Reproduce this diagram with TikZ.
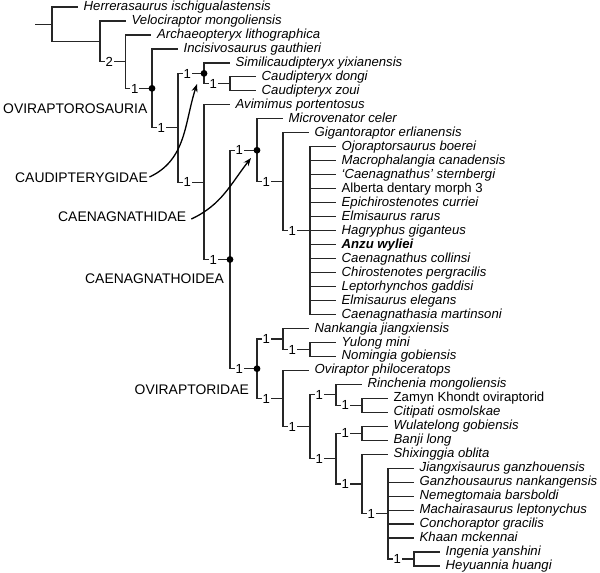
\documentclass[tikz,border=0pt]{standalone}
\usepackage{fontspec}
\setmainfont{Liberation Sans}
\usetikzlibrary{calc,arrows.meta}
\def\ytop{7}
\def\ystep{13.975}
\newcommand\ry[1]{\ytop+\ystep*(#1-1)}
\tikzset{
  br/.style={draw=black!85, line width=1.2pt},
  leaf/.style={font=\fontsize{13.15}{15}\selectfont\itshape, inner sep=0pt, anchor=west, text height=9.2pt, text depth=2pt},
  uprt/.style={font=\fontsize{13.15}{15}\selectfont\upshape},
  boldit/.style={font=\fontsize{13.15}{15}\selectfont\bfseries\itshape},
  sup/.style={font=\fontsize{13.15}{15}\selectfont, fill=white, inner xsep=0.8pt, inner ysep=0pt, anchor=west, text height=9.4pt, text depth=0pt},
  clade/.style={font=\fontsize{13.9}{16}\selectfont, inner sep=0pt, text height=10pt, text depth=0pt},
  arr/.style={draw=black, line width=1.3pt, -{Stealth[length=8pt,width=6pt]}},
  dot/.style={fill=black},
}
\newcommand\lf[4][]{%
  \coordinate (e#2) at ($(#3 |- 0,{\ry{#2}})+(25.5,0)$);
  \draw[br] (#3) |- (e#2);
  \node[leaf,#1] (t#2) at ($(e#2)+(6,0)$) {#4};
}
\newcommand\ed[3]{%
  \draw[br] (#1) |- (#2);
  \node[sup] (s#2) at ($(#1 |- #2)+(4.5,0)$) {#3};
}
\begin{document}
\begin{tikzpicture}[x=1pt,y=-1pt]
\useasboundingbox (0,0) rectangle (600,573);
% internal nodes
\coordinate (stub)  at (35,{\ry{2.22760009765625}});
\coordinate (root)  at (52,{\ry{2.22760009765625}});
\coordinate (Nvel)  at (100,{\ry{3.4552001953125}});
\coordinate (Narch) at (125.5,{\ry{4.910400390625}});
\coordinate (Novs)  at (152,{\ry{6.82080078125}});
\coordinate (NA)    at (178,{\ry{9.6416015625}});
\coordinate (Ncaud) at (204,{\ry{5.75}});
\coordinate (Ncdz)  at (230,{\ry{6.5}});
\coordinate (NB)    at (204,{\ry{13.533203125}});
\coordinate (Ncoid) at (230,{\ry{19.06640625}});
\coordinate (Ncid)  at (257,{\ry{11.25}});
\coordinate (Ngig)  at (283,{\ry{13.5}});
\coordinate (P1)    at (310,{\ry{17}});
\coordinate (Novd)  at (257,{\ry{26.8828125}});
\coordinate (Nnan)  at (283,{\ry{24.75}});
\coordinate (Nyul)  at (310,{\ry{25.5}});
\coordinate (Novr)  at (283,{\ry{29.015625}});
\coordinate (NX)    at (310,{\ry{31.03125}});
\coordinate (Nrin)  at (336,{\ry{28.75}});
\coordinate (Nzam)  at (362,{\ry{29.5}});
\coordinate (NY)    at (336,{\ry{33.3125}});
\coordinate (Nwul)  at (362,{\ry{31.5}});
\coordinate (Nshi)  at (362,{\ry{35.125}});
\coordinate (P2)    at (388,{\ry{37.25}});
\coordinate (Ning)  at (414,{\ry{40.5}});
% stem edges
\draw[br] (stub) -- (root);
\draw[br] (root) |- (Nvel);
\ed{Nvel}{Narch}{2}
\ed{Narch}{Novs}{1}
\ed{Novs}{NA}{1}
\ed{NA}{Ncaud}{1}
\ed{Ncaud}{Ncdz}{1}
\ed{NA}{NB}{1}
\ed{NB}{Ncoid}{1}
\ed{Ncoid}{Ncid}{1}
\ed{Ncid}{Ngig}{1}
\ed{Ngig}{P1}{1}
\ed{Ncoid}{Novd}{1}
\ed{Novd}{Nnan}{1}
\ed{Nnan}{Nyul}{1}
\ed{Novd}{Novr}{1}
\ed{Novr}{NX}{1}
\ed{NX}{Nrin}{1}
\ed{Nrin}{Nzam}{1}
\ed{NX}{NY}{1}
\ed{NY}{Nwul}{1}
\ed{NY}{Nshi}{1}
\ed{Nshi}{P2}{1}
\ed{P2}{Ning}{1}
% leaves
\lf{1}{root}{Herrerasaurus ischigualastensis}
\lf{2}{Nvel}{Velociraptor mongoliensis}
\lf{3}{Narch}{Archaeopteryx lithographica}
\lf{4}{Novs}{Incisivosaurus gauthieri}
\lf{5}{Ncaud}{Similicaudipteryx yixianensis}
\lf{6}{Ncdz}{Caudipteryx dongi}
\lf{7}{Ncdz}{Caudipteryx zoui}
\lf{8}{NB}{Avimimus portentosus}
\lf{9}{Ncid}{Microvenator celer}
\lf{10}{Ngig}{Gigantoraptor erlianensis}
\lf{11}{P1}{Ojoraptorsaurus boerei}
\lf{12}{P1}{Macrophalangia canadensis}
\lf{13}{P1}{‘Caenagnathus’ sternbergi}
\lf[uprt]{14}{P1}{Alberta dentary morph 3}
\lf{15}{P1}{Epichirostenotes curriei}
\lf{16}{P1}{Elmisaurus rarus}
\lf{17}{P1}{Hagryphus giganteus}
\lf[boldit]{18}{P1}{Anzu wyliei}
\lf{19}{P1}{Caenagnathus collinsi}
\lf{20}{P1}{Chirostenotes pergracilis}
\lf{21}{P1}{Leptorhynchos gaddisi}
\lf{22}{P1}{Elmisaurus elegans}
\lf{23}{P1}{Caenagnathasia martinsoni}
\lf{24}{Nnan}{Nankangia jiangxiensis}
\lf{25}{Nyul}{Yulong mini}
\lf{26}{Nyul}{Nomingia gobiensis}
\lf{27}{Novr}{Oviraptor philoceratops}
\lf{28}{Nrin}{Rinchenia mongoliensis}
\lf[uprt]{29}{Nzam}{Zamyn Khondt oviraptorid}
\lf{30}{Nzam}{Citipati osmolskae}
\lf{31}{Nwul}{Wulatelong gobiensis}
\lf{32}{Nwul}{Banji long}
\lf{33}{Nshi}{Shixinggia oblita}
\lf{34}{P2}{Jiangxisaurus ganzhouensis}
\lf{35}{P2}{Ganzhousaurus nankangensis}
\lf{36}{P2}{Nemegtomaia barsboldi}
\lf{37}{P2}{Machairasaurus leptonychus}
\lf{38}{P2}{Conchoraptor gracilis}
\lf{39}{P2}{Khaan mckennai}
\lf{40}{Ning}{Ingenia yanshini}
\lf{41}{Ning}{Heyuannia huangi}
% dots
\foreach \n in {Novs,Ncaud,Ncoid,Ncid,Novd} \fill[dot] (\n) circle (3.4);
% clade names
\node[clade,anchor=west] (ovs) at (3,108) {OVIRAPTOROSAURIA};
\node[clade,anchor=west] (cdg) at (15,177) {CAUDIPTERYGIDAE};
\node[clade,anchor=west] (cae) at (58,216) {CAENAGNATHIDAE};
\node[clade,anchor=west] (coi) at (85,278) {CAENAGNATHOIDEA};
\node[clade,anchor=east] (ovd) at (249,389) {OVIRAPTORIDAE};
\coordinate (ctip) at (197,84);
\coordinate (etip) at (251,158);
\draw[arr] ([xshift=1.5pt]cdg.east) to[out=25,in=-108] (ctip);
\draw[arr] ([xshift=5pt,yshift=-3pt]cae.east) to[out=25,in=-128] (etip);
\end{tikzpicture}
\end{document}
